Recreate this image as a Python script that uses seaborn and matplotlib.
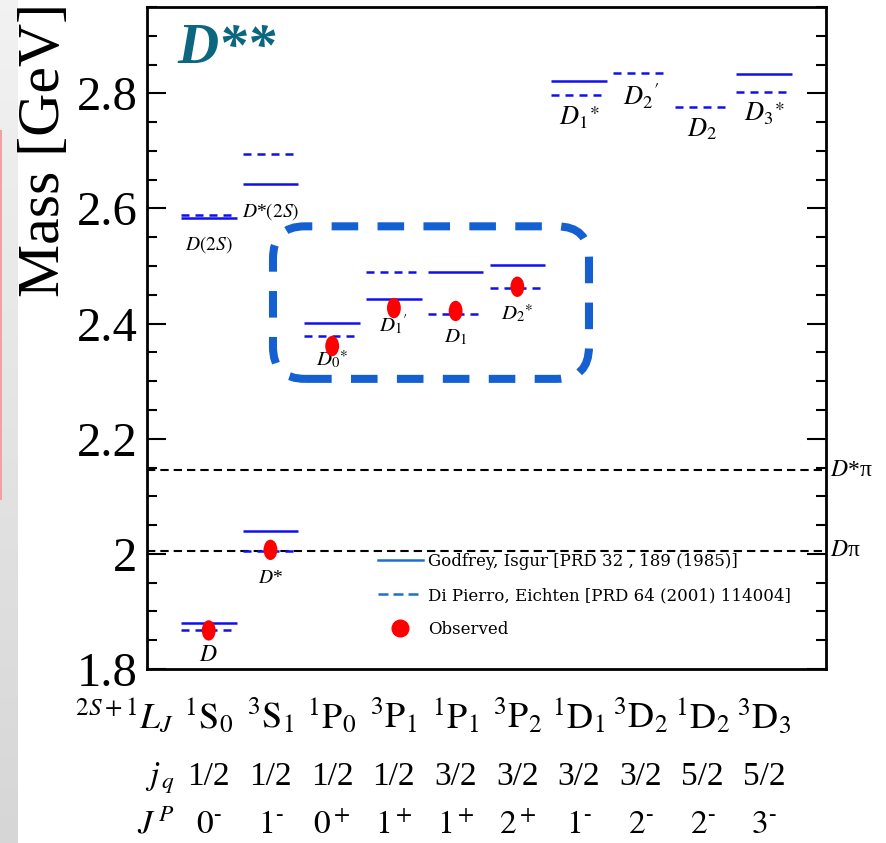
import numpy as np
import pandas as pd
import matplotlib
matplotlib.use("Agg")
import matplotlib.pyplot as plt
import matplotlib.transforms as mtransforms
from matplotlib.path import Path
from matplotlib.lines import Line2D
from matplotlib.patches import FancyBboxPatch, Rectangle
from matplotlib.ticker import MultipleLocator, FixedLocator, FixedFormatter
import seaborn as sns

# ---------------- data ----------------
spectroscopic = [r"$^1\mathrm{S}_0$", r"$^3\mathrm{S}_1$", r"$^1\mathrm{P}_0$", r"$^3\mathrm{P}_1$",
                 r"$^1\mathrm{P}_1$", r"$^3\mathrm{P}_2$", r"$^1\mathrm{D}_1$", r"$^3\mathrm{D}_2$",
                 r"$^1\mathrm{D}_2$", r"$^3\mathrm{D}_3$"]
j_q = ["1/2", "1/2", "1/2", "1/2", "3/2", "3/2", "3/2", "3/2", "5/2", "5/2"]
J_P = [r"$0^{\text{-}}$", r"$1^{\text{-}}$", r"$0^+$", r"$1^+$", r"$1^+$", r"$2^+$",
       r"$1^{\text{-}}$", r"$2^{\text{-}}$", r"$2^{\text{-}}$", r"$3^{\text{-}}$"]

level_col = [0, 0, 1, 1, 2, 3, 4, 5, 6, 7, 8, 9]
level_name = [r"$D$", r"$D(2S)$", r"$D$*", r"$D$*$(2S)$", r"$D_0{}^{\ast}$", r"$D_1{}^{\prime}$",
              r"$D_1$", r"$D_2{}^{\ast}$", r"$D_1{}^{\ast}$", r"$D_2{}^{\prime}$", r"$D_2$", r"$D_3{}^{\ast}$"]
gi_mass = [1.880, 2.583, 2.039, 2.642, 2.401, 2.442, 2.490, 2.501, 2.822, np.nan, np.nan, 2.833]
de_mass = [1.868, 2.589, 2.005, 2.694, 2.378, 2.490, 2.417, 2.461, 2.797, 2.836, 2.777, 2.802]

obs_col = [0, 1, 2, 3, 4, 5]
obs_mass = [1.867, 2.007, 2.361, 2.427, 2.422, 2.464]

threshold_name = [r"$D$*π", r"$D$π"]
threshold_mass = [2.145, 2.005]

ytick_values = [1.8, 2.0, 2.2, 2.4, 2.6, 2.8]
ytick_labels = ["1.8", "2", "2.2", "2.4", "2.6", "2.8"]

legend_labels = ["Godfrey, Isgur [PRD 32 , 189 (1985)]",
                 "Di Pierro, Eichten [PRD 64 (2001) 114004]",
                 "Observed"]

# ---------------- layout / style ----------------
label_y = [1.823, 2.537, 1.958, 2.595, 2.337, 2.398, 2.376, 2.417, 2.757, 2.795, 2.737, 2.765]
label_size = [17, 14, 14, 14, 15, 15, 15, 15, 19, 19, 19, 19]
BLUE = "#1010ee"
HALF = 0.45

plt.rcParams["font.family"] = ["Liberation Serif", "DejaVu Serif"]
plt.rcParams["mathtext.fontset"] = "stix"

W, H = 887, 843
fig = plt.figure(figsize=(W / 100, H / 100), dpi=100)
fig.patch.set_facecolor("white")

# left slide-edge strip
strip = fig.add_axes([0, 0, 18 / W, 1])
grad = np.linspace(0.95, 0.84, 256).reshape(-1, 1)
strip.imshow(np.dstack([grad, grad, grad]), aspect="auto", extent=[0, 1, 0, 1])
strip.set_axis_off()
fig.add_artist(Rectangle((0, 1 - 500 / H), 2 / W, 370 / H, transform=fig.transFigure,
                         color="#f2a0a0", lw=0))

ax = fig.add_axes([147 / W, 1 - 669 / H, (826 - 147) / W, (669 - 7) / H])
ax.set_xlim(-1, 10)
ax.set_ylim(1.8, 2.95)

# theory levels
x_lev = np.array(level_col, dtype=float)
ax.hlines(gi_mass, x_lev - HALF, x_lev + HALF, colors=BLUE, lw=1.8, zorder=3)
ax.hlines(de_mass, x_lev - HALF, x_lev + HALF, colors=BLUE, lw=1.8,
          linestyles=[(0, (3.2, 2.4))], zorder=3)

# thresholds
for name, m in zip(threshold_name, threshold_mass):
    ax.axhline(m, color="black", lw=1.5, ls=(0, (4, 2.4)), zorder=2)
    ax.text(1.006, m, name, transform=mtransforms.blended_transform_factory(ax.transAxes, ax.transData),
            ha="left", va="center", fontsize=17, clip_on=False)

# observed states
ell = Path.unit_circle()
ell = Path(ell.vertices * np.array([0.68, 1.0]), ell.codes)
obs_df = pd.DataFrame({"col": obs_col, "mass": obs_mass})
sns.scatterplot(data=obs_df, x="col", y="mass", marker=ell, s=215, color="red",
                edgecolor="none", linewidth=0, zorder=5, ax=ax, legend=False)

# level names
for c, n, y, s in zip(level_col, level_name, label_y, label_size):
    ax.text(c, y, n, ha="center", va="center", fontsize=s, zorder=4)

# highlight box around the P-wave states
bx0, bx1 = 1.041, 6.16
by0, by1 = 2.304, 2.569
box = FancyBboxPatch((bx0, by0), bx1 - bx0, by1 - by0,
                     boxstyle="round,pad=0,rounding_size=0.52",
                     mutation_aspect=(61.73 / 575.0),
                     fill=False, ec="#1560d0", lw=5.8, ls=(0, (3.3, 2.4)), zorder=6)
ax.add_patch(box)

# axes styling
ax.set_xticks([])
ax.yaxis.set_major_locator(FixedLocator(ytick_values))
ax.yaxis.set_major_formatter(FixedFormatter(ytick_labels))
ax.yaxis.set_minor_locator(MultipleLocator(0.05))
ax.tick_params(axis="y", which="major", direction="in", length=14, width=1.5,
               left=True, right=True, labelsize=35, pad=7)
ax.tick_params(axis="y", which="minor", direction="in", length=7, width=1.5,
               left=True, right=True)
for sp in ax.spines.values():
    sp.set_linewidth(2)
    sp.set_color("black")
ax.set_xlabel("")
ax.set_ylabel("")

fig.text(45 / W, 1 - 150 / H, "Mass [GeV]", rotation=90, ha="center", va="center", fontsize=43)

ax.text(0.045, 0.915, "D**", transform=ax.transAxes, fontsize=41, fontweight="bold",
        fontstyle="italic", color="#0b6680", ha="left", va="baseline")

# bottom quantum-number rows
bt = mtransforms.blended_transform_factory(ax.transData, ax.transAxes)
rows_y = [-0.089, -0.175, -0.248]
row_names = [r"$^{2S+1}L_J$", r"$j_{\,q}$", r"$J^{\,P}$"]
row_sizes = [26, 24, 24]
for vals, ry, rn, rs in zip([spectroscopic, j_q, J_P], rows_y, row_names, row_sizes):
    ax.text(-0.56, ry, rn, transform=bt, ha="right", va="baseline", fontsize=rs, clip_on=False)
    for i, v in enumerate(vals):
        ax.text(i, ry, v, transform=bt, ha="center", va="baseline", fontsize=rs, clip_on=False)

# legend
handles = [Line2D([], [], color="#1e6fd4", lw=1.8, ls="-"),
           Line2D([], [], color="#1e6fd4", lw=1.8, ls=(0, (4, 2))),
           Line2D([], [], color="red", marker="o", ls="none", markersize=12)]
ax.legend(handles, legend_labels, loc="upper left", bbox_to_anchor=(378 / W, 1 - 553 / H),
          bbox_transform=fig.transFigure, frameon=False, borderpad=0, borderaxespad=0,
          handlelength=2.7, handletextpad=0.3, labelspacing=1.02,
          prop={"family": "DejaVu Serif", "size": 12})

fig.savefig("out.png", dpi=100)
